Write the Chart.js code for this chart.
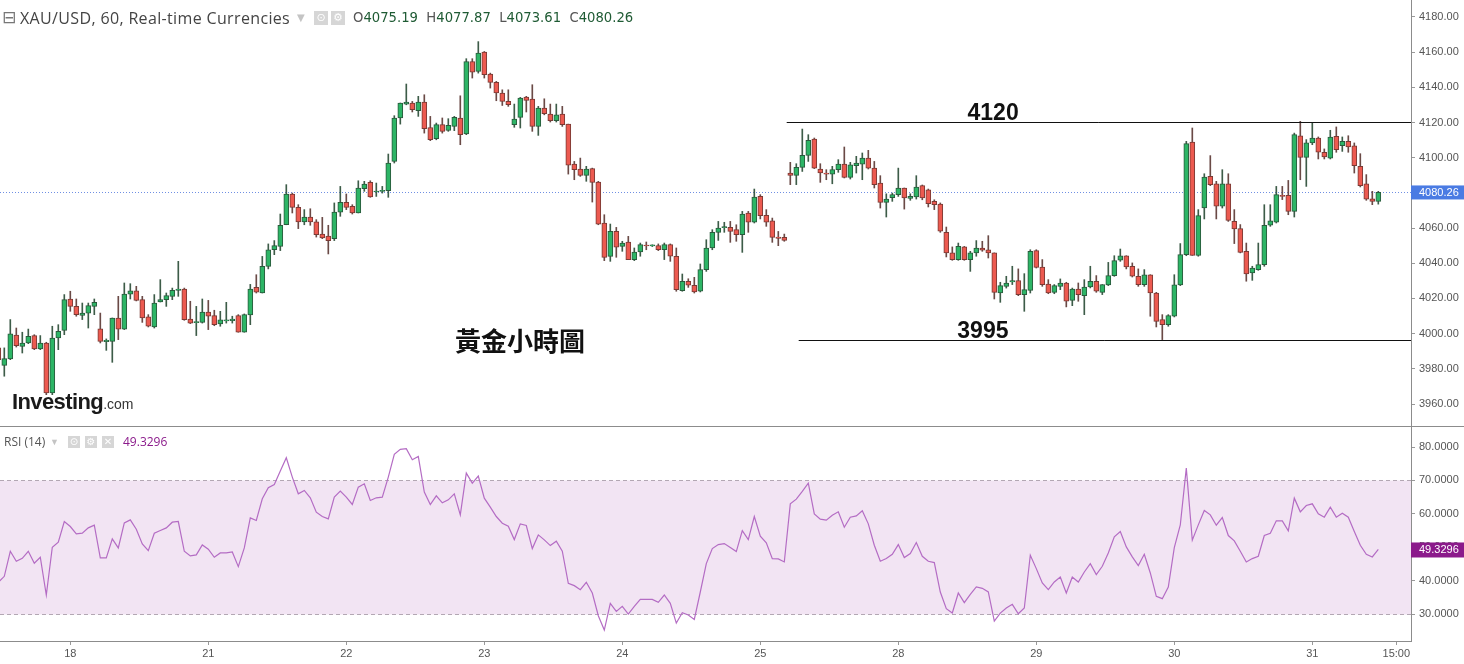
<!DOCTYPE html>
<html>
<head>
<meta charset="utf-8">
<title>XAU/USD 60</title>
<script src="https://cdn.jsdelivr.net/npm/chart.js@4.4.1/dist/chart.umd.min.js"></script>
<style>
  html, body { margin: 0; padding: 0; background: #fff; }
  #wrap { position: relative; width: 1464px; height: 664px; overflow: hidden; font-family: 'Liberation Sans', Arial, sans-serif; }
  #top { position: absolute; left: 0; top: 0; width: 1464px; height: 426px; }
  #sep { position: absolute; left: 0; top: 426px; width: 1464px; height: 1px; background: #8c8c8c; }
  #bot { position: absolute; left: 0; top: 427px; width: 1464px; height: 237px; }
  .txt { position: absolute; white-space: nowrap; }
  .hd { font-family: 'DejaVu Sans', sans-serif; font-size: 14px; line-height: 18px; color: #444; top: 9px; }
  .ttl { font-family: 'Open Sans', sans-serif; font-size: 16px; letter-spacing: 0.35px; }
  .ico { position: absolute; width: 14px; height: 14px; background: #d6d6d6; color: #fff; font-size: 11px; line-height: 14px; text-align: center; font-family: 'DejaVu Sans', sans-serif; }
  .ohlc b { font-weight: normal; color: #1f5b34; }
  .ohlc { color: #555; font-size: 13.2px; }
  .rsih { font-family: 'Open Sans', sans-serif; font-size: 12px; line-height: 14px; color: #555; top: 435px; }
</style>
</head>
<body>
<div id="wrap">
  <div id="top"><canvas id="cTop"></canvas></div>
  <div id="sep"></div>
  <div id="bot"><canvas id="cBot"></canvas></div>

  <div class="txt hd" style="left:2px;top:8px;color:#777;font-size:17px;">⊟</div>
  <div class="txt hd ttl" style="left:20px;">XAU/USD, 60, Real-time Currencies</div>
  <div class="txt hd" style="left:297px;color:#c4c4c4;font-size:10px;">▼</div>
  <div class="ico" style="left:314px;top:11px;">⊙</div>
  <div class="ico" style="left:331px;top:11px;">⚙</div>
  <div class="txt hd ohlc" style="left:353px;">O<b>4075.19</b>&nbsp;&nbsp;H<b>4077.87</b>&nbsp;&nbsp;L<b>4073.61</b>&nbsp;&nbsp;C<b>4080.26</b></div>

  <div class="txt" style="left:455px;top:325px;font-family:'Noto Sans CJK TC',sans-serif;font-weight:bold;font-size:26px;line-height:30px;color:#111;">黃金小時圖</div>

  <div class="txt" style="left:12px;top:389px;color:#1a1a1a;">
    <span style="font-weight:bold;font-size:22px;letter-spacing:-0.6px;">Investing</span><span style="font-size:14px;color:#333;">.com</span>
  </div>

  <div class="txt rsih" style="left:4px;">RSI (14)</div>
  <div class="txt rsih" style="left:50px;color:#c4c4c4;font-size:9px;">▼</div>
  <div class="ico" style="left:68px;top:436px;width:12px;height:12px;line-height:12px;font-size:10px;">⊙</div>
  <div class="ico" style="left:85px;top:436px;width:12px;height:12px;line-height:12px;font-size:10px;">⚙</div>
  <div class="ico" style="left:102px;top:436px;width:12px;height:12px;line-height:12px;font-size:10px;">✕</div>
  <div class="txt rsih" style="left:123px;color:#8b1a8b;">49.3296</div>
</div>

<script>
// 小時K線 開 / 高 / 低 / 收 (從圖上讀出的估計值)
var opens = [
  3991.9, 3982.0, 3985.6, 3999.2, 3992.8, 3994.7, 3998.9, 3991.3, 3994.7, 3966.3,
  3997.5, 4001.9, 4019.7, 4015.5, 4010.4, 4011.7, 4015.5, 4002.8, 3995.5, 3995.6,
  4008.9, 4002.6, 4022.5, 4024.4, 4019.3, 4009.5, 4003.8, 4018.0, 4019.3, 4021.2,
  4024.6, 4025.4, 4008.3, 4006.3, 4006.4, 4012.3, 4010.2, 4005.5, 4007.2, 4007.4,
  4010.2, 4000.8, 4010.6, 4026.3, 4023.1, 4038.2, 4047.7, 4049.6, 4061.9, 4079.4,
  4071.8, 4063.5, 4066.3, 4063.5, 4056.6, 4055.5, 4054.0, 4069.1, 4074.6, 4072.4,
  4068.6, 4082.4, 4086.0, 4080.5, 4080.9, 4081.3, 4097.9, 4122.6, 4130.5, 4131.1,
  4126.7, 4131.6, 4117.2, 4110.8, 4118.8, 4115.5, 4117.8, 4122.6, 4113.5, 4154.7,
  4149.1, 4160.0, 4147.6, 4142.8, 4136.8, 4132.0, 4118.8, 4122.9, 4134.5, 4133.3,
  4117.8, 4128.2, 4124.8, 4121.0, 4124.8, 4119.1, 4096.4, 4093.6, 4090.0, 4093.8,
  4086.2, 4062.9, 4043.9, 4058.2, 4049.6, 4052.1, 4042.1, 4046.4, 4050.2, 4049.9,
  4050.0, 4047.7, 4050.6, 4044.0, 4024.4, 4029.7, 4027.5, 4024.1, 4036.4, 4048.7,
  4057.6, 4060.2, 4060.4, 4059.1, 4056.3, 4068.6, 4063.3, 4078.0, 4067.2, 4064.2,
  4054.9, 4054.7, 4091.3, 4090.0, 4094.5, 4101.3, 4110.6, 4093.6, 4091.3, 4090.7,
  4093.2, 4096.4, 4088.8, 4095.5, 4096.4, 4099.8, 4094.1, 4085.6, 4074.6, 4077.3,
  4079.0, 4082.8, 4076.9, 4077.7, 4084.1, 4081.8, 4075.2, 4073.7, 4057.6, 4045.9,
  4042.1, 4049.3, 4042.1, 4045.9, 4048.7, 4047.7, 4045.9, 4023.1, 4026.9, 4029.4,
  4030.1, 4022.2, 4024.6, 4047.2, 4037.9, 4028.2, 4023.5, 4026.9, 4028.8, 4018.9,
  4025.4, 4021.6, 4026.5, 4029.7, 4023.5, 4027.7, 4033.0, 4041.7, 4044.3, 4038.3,
  4032.6, 4027.9, 4033.5, 4023.1, 4008.0, 4005.1, 4009.9, 4027.7, 4044.9, 4108.9,
  4044.5, 4071.4, 4089.4, 4085.2, 4072.4, 4085.2, 4063.8, 4059.7, 4046.8, 4034.5,
  4036.4, 4039.2, 4061.6, 4063.3, 4078.6, 4078.6, 4069.5, 4112.5, 4100.2, 4108.4,
  4111.2, 4103.1, 4099.8, 4112.2, 4106.8, 4109.3, 4106.8, 4095.1, 4085.1, 4076.7,
  4075.19
];
var highs = [
  3993.7, 3991.9, 4008.0, 4003.2, 4000.8, 4002.6, 3999.4, 3998.9, 3995.1, 4004.2,
  4005.1, 4022.2, 4024.1, 4019.7, 4017.4, 4017.4, 4019.7, 4011.7, 3997.0, 4008.9,
  4021.2, 4028.8, 4028.4, 4026.9, 4021.2, 4010.8, 4022.2, 4030.7, 4023.1, 4025.9,
  4041.1, 4025.9, 4018.4, 4015.5, 4019.7, 4018.9, 4013.3, 4012.7, 4017.8, 4009.9,
  4010.8, 4011.2, 4028.0, 4033.5, 4043.9, 4051.0, 4052.9, 4068.0, 4084.7, 4079.9,
  4073.3, 4070.5, 4071.0, 4064.8, 4066.1, 4061.6, 4074.3, 4083.7, 4079.4, 4073.3,
  4086.9, 4086.6, 4086.9, 4085.6, 4083.7, 4102.1, 4123.9, 4131.1, 4141.9, 4132.0,
  4134.9, 4135.8, 4123.5, 4119.7, 4122.6, 4122.2, 4123.5, 4135.2, 4156.3, 4156.3,
  4166.0, 4160.4, 4148.1, 4143.4, 4138.6, 4138.6, 4130.5, 4134.3, 4134.9, 4141.5,
  4129.2, 4133.5, 4130.5, 4130.5, 4129.2, 4119.1, 4097.9, 4099.8, 4095.1, 4094.1,
  4086.6, 4067.6, 4062.3, 4060.4, 4052.5, 4055.3, 4048.7, 4051.5, 4052.1, 4050.5,
  4051.0, 4051.5, 4051.0, 4048.7, 4033.9, 4031.2, 4032.0, 4039.6, 4053.4, 4059.1,
  4063.8, 4063.3, 4063.8, 4061.9, 4069.5, 4069.5, 4082.2, 4079.0, 4070.5, 4065.7,
  4058.1, 4056.6, 4097.4, 4096.6, 4116.3, 4113.1, 4111.2, 4096.6, 4093.2, 4095.1,
  4098.9, 4106.1, 4097.4, 4100.8, 4102.7, 4104.2, 4097.9, 4089.8, 4079.5, 4079.9,
  4094.1, 4082.8, 4079.5, 4089.8, 4084.5, 4082.2, 4076.1, 4074.3, 4060.6, 4049.3,
  4051.5, 4049.6, 4046.8, 4052.9, 4052.5, 4055.7, 4045.9, 4029.2, 4032.6, 4038.3,
  4036.8, 4034.1, 4047.7, 4047.7, 4042.1, 4030.7, 4027.9, 4031.1, 4029.2, 4025.9,
  4028.8, 4030.7, 4038.3, 4033.0, 4027.9, 4040.5, 4044.3, 4048.1, 4044.3, 4040.2,
  4036.8, 4036.4, 4033.5, 4023.5, 4010.8, 4010.8, 4033.5, 4051.2, 4109.3, 4116.9,
  4070.5, 4090.9, 4101.2, 4086.6, 4093.2, 4090.9, 4070.5, 4062.0, 4051.5, 4038.3,
  4051.5, 4073.3, 4073.3, 4083.7, 4083.7, 4087.1, 4114.0, 4120.7, 4110.3, 4119.7,
  4111.8, 4105.0, 4115.6, 4117.5, 4111.8, 4112.5, 4108.4, 4102.3, 4090.4, 4080.9,
  4080.9
];
var lows = [
  3984.3, 3975.8, 3985.2, 3992.4, 3989.0, 3994.3, 3990.9, 3990.9, 3965.3, 3965.3,
  3990.9, 3999.4, 4012.7, 4009.9, 4008.0, 4003.2, 4010.8, 3994.7, 3990.5, 3983.7,
  3996.6, 4002.3, 4019.7, 4018.6, 4006.4, 4003.8, 4003.2, 4018.0, 4015.5, 4019.3,
  4021.2, 4007.6, 4005.7, 3998.9, 4006.0, 4002.3, 4004.5, 4004.2, 4006.0, 4006.0,
  4000.8, 4000.8, 4005.1, 4023.1, 4023.1, 4036.8, 4044.9, 4047.2, 4061.9, 4068.6,
  4059.7, 4061.9, 4061.6, 4054.9, 4054.0, 4045.3, 4052.9, 4066.7, 4070.5, 4068.0,
  4068.6, 4080.9, 4077.5, 4078.0, 4079.9, 4077.5, 4097.0, 4119.1, 4130.1, 4126.0,
  4123.5, 4114.0, 4109.7, 4110.2, 4114.0, 4115.0, 4115.4, 4107.4, 4113.1, 4145.3,
  4148.1, 4145.3, 4139.6, 4132.4, 4129.7, 4129.2, 4117.3, 4116.9, 4126.0, 4115.0,
  4112.7, 4124.4, 4120.3, 4120.3, 4117.8, 4090.7, 4087.5, 4089.4, 4086.6, 4074.8,
  4061.9, 4041.5, 4041.1, 4043.4, 4046.8, 4042.1, 4041.5, 4044.0, 4047.7, 4049.5,
  4047.2, 4042.1, 4041.1, 4024.1, 4024.1, 4026.3, 4023.1, 4023.7, 4035.4, 4047.7,
  4053.0, 4057.6, 4051.9, 4052.5, 4046.2, 4057.6, 4062.9, 4065.2, 4061.0, 4051.9,
  4050.0, 4052.5, 4084.7, 4084.7, 4092.2, 4097.9, 4093.8, 4086.0, 4087.5, 4085.2,
  4091.7, 4088.5, 4087.9, 4091.3, 4087.5, 4093.6, 4082.8, 4071.4, 4066.3, 4075.2,
  4078.0, 4070.8, 4075.8, 4076.5, 4076.1, 4072.0, 4070.5, 4057.6, 4043.6, 4041.7,
  4041.7, 4041.7, 4035.4, 4044.0, 4046.8, 4043.0, 4019.7, 4017.8, 4025.9, 4027.9,
  4021.6, 4012.7, 4023.1, 4037.3, 4026.9, 4022.7, 4022.7, 4025.0, 4015.2, 4015.9,
  4018.4, 4010.8, 4026.0, 4023.5, 4022.2, 4027.3, 4032.6, 4041.1, 4036.8, 4032.2,
  4026.9, 4026.9, 4009.9, 4003.8, 3996.6, 4004.2, 4009.5, 4027.3, 4044.3, 4044.5,
  4044.0, 4065.2, 4084.1, 4065.2, 4071.4, 4063.8, 4051.2, 4045.9, 4029.8, 4030.3,
  4036.0, 4038.3, 4061.0, 4062.9, 4076.2, 4067.6, 4066.3, 4087.5, 4083.7, 4107.4,
  4099.3, 4099.3, 4099.3, 4103.1, 4103.6, 4103.1, 4091.3, 4083.4, 4075.8, 4073.3,
  4073.61
];
var closes = [
  3985.2, 3985.8, 3999.9, 3993.2, 3994.7, 3998.5, 3991.3, 3994.7, 3966.3, 3997.5,
  4001.3, 4019.3, 4015.5, 4010.8, 4011.7, 4015.9, 4017.8, 3995.6, 3996.2, 4008.9,
  4002.6, 4022.5, 4024.4, 4018.9, 4008.9, 4004.2, 4017.4, 4019.3, 4021.6, 4024.6,
  4025.4, 4008.0, 4006.0, 4006.5, 4012.3, 4009.9, 4005.1, 4007.8, 4007.8, 4008.3,
  4000.8, 4010.8, 4025.4, 4023.6, 4038.2, 4047.7, 4050.0, 4061.6, 4079.4, 4071.8,
  4063.5, 4066.3, 4063.5, 4056.3, 4054.4, 4052.9, 4069.1, 4074.6, 4071.8, 4068.6,
  4082.8, 4085.0, 4077.7, 4080.9, 4081.4, 4097.0, 4122.6, 4131.1, 4131.6, 4127.3,
  4131.6, 4116.5, 4110.2, 4118.8, 4115.0, 4118.4, 4122.9, 4113.1, 4154.7, 4148.7,
  4159.5, 4147.2, 4142.8, 4136.8, 4132.0, 4130.1, 4122.0, 4133.9, 4132.6, 4117.8,
  4128.2, 4125.0, 4121.0, 4124.4, 4118.8, 4095.7, 4093.2, 4090.0, 4093.6, 4086.0,
  4062.3, 4043.4, 4058.2, 4049.1, 4051.5, 4042.1, 4046.4, 4050.6, 4049.8, 4050.1,
  4047.7, 4050.6, 4044.0, 4025.0, 4029.7, 4027.5, 4023.7, 4036.4, 4048.7, 4057.6,
  4060.0, 4060.8, 4058.1, 4056.3, 4068.0, 4063.3, 4077.7, 4067.1, 4063.3, 4054.7,
  4054.2, 4053.0, 4090.0, 4094.5, 4101.3, 4109.9, 4094.1, 4091.3, 4090.7, 4093.2,
  4096.4, 4088.8, 4096.0, 4097.0, 4099.8, 4094.1, 4084.7, 4074.6, 4076.5, 4079.0,
  4082.8, 4077.1, 4078.0, 4083.3, 4077.1, 4073.9, 4073.3, 4058.2, 4045.9, 4042.1,
  4049.6, 4042.1, 4045.9, 4048.7, 4047.4, 4045.9, 4023.5, 4027.3, 4028.8, 4030.1,
  4022.2, 4025.0, 4046.8, 4037.7, 4027.9, 4023.1, 4027.3, 4028.8, 4018.4, 4025.4,
  4022.2, 4026.5, 4029.7, 4024.1, 4027.9, 4033.0, 4041.5, 4044.3, 4037.9, 4032.6,
  4027.9, 4033.4, 4023.1, 4007.0, 4005.1, 4010.2, 4027.7, 4044.9, 4108.0, 4044.5,
  4067.1, 4089.0, 4084.7, 4072.4, 4085.2, 4064.4, 4059.5, 4046.2, 4033.9, 4037.3,
  4039.2, 4061.6, 4064.2, 4079.0, 4078.0, 4069.5, 4113.1, 4100.2, 4108.4, 4111.2,
  4103.1, 4100.4, 4111.8, 4104.6, 4109.3, 4106.1, 4095.5, 4084.1, 4076.5, 4075.2,
  4080.26
];
// RSI(14)
var rsiValues = [
  39.5, 41.3, 48.8, 45.8, 46.7, 48.8, 45.2, 47.0, 35.7, 50.0,
  51.5, 57.7, 56.2, 54.0, 54.2, 55.8, 56.6, 46.8, 46.8, 52.5,
  49.8, 57.3, 58.2, 55.4, 51.0, 49.0, 54.2, 55.0, 55.8, 57.5,
  57.7, 48.8, 47.4, 47.7, 50.7, 49.4, 47.0, 48.3, 48.3, 48.6,
  44.2, 49.8, 58.8, 58.0, 64.5, 67.8, 68.8, 72.8, 76.8, 71.0,
  66.0, 67.0, 64.8, 60.5, 59.2, 58.5, 65.0, 66.8, 65.0, 62.8,
  68.0, 69.0, 64.0, 64.8, 65.0, 71.0, 77.8, 79.3, 79.5, 76.2,
  77.2, 66.5, 62.8, 65.4, 63.3, 64.2, 66.0, 59.7, 72.2, 69.2,
  71.3, 64.7, 62.0, 59.2, 57.2, 56.3, 52.3, 57.0, 56.5, 49.6,
  53.7, 52.2, 50.5, 51.8, 48.8, 39.2, 38.5, 37.3, 39.5, 36.3,
  29.5, 25.2, 33.2, 30.8, 32.3, 30.0, 32.3, 34.4, 34.4, 34.4,
  33.5, 35.7, 33.2, 27.3, 30.4, 29.7, 28.4, 36.6, 45.1, 49.6,
  50.8, 51.1, 49.9, 48.7, 55.0, 52.3, 59.2, 53.3, 51.3, 46.6,
  46.5, 45.6, 63.0, 64.4, 66.7, 69.2, 60.0, 58.4, 58.1, 59.6,
  60.6, 56.0, 59.0, 59.4, 60.9, 57.0, 50.6, 45.8, 46.6, 47.9,
  50.8, 46.9, 48.1, 51.4, 47.3, 45.8, 45.4, 36.6, 31.6, 30.3,
  36.3, 33.4, 35.9, 38.1, 37.7, 36.6, 27.9, 30.3, 31.8, 32.9,
  30.1, 31.8, 47.6, 43.6, 39.3, 37.3, 39.6, 41.1, 36.3, 41.1,
  39.6, 42.6, 45.1, 41.8, 44.3, 48.3, 53.1, 54.7, 50.1, 47.1,
  44.5, 47.9, 42.3, 35.3, 34.6, 38.1, 49.9, 56.7, 73.7, 52.1,
  56.7, 61.0, 59.7, 56.6, 58.9, 53.5, 51.9, 48.8, 45.6, 46.6,
  47.3, 53.5, 54.2, 57.9, 57.9, 54.9, 64.7, 60.6, 62.5, 63.0,
  60.0, 59.0, 62.0, 59.0, 60.2, 59.0, 54.7, 50.6, 47.9, 47.1,
  49.3296
];
// 日期刻度 (對應K線序號)
var dayTickIndex = [12, 35, 58, 81, 104, 127, 150, 173, 196, 219, 233];
var dayTickLabels = ['18', '21', '22', '23', '24', '25', '28', '29', '30', '31', '15:00'];
var priceTicks = [3960, 3980, 4000, 4020, 4040, 4060, 4080, 4100, 4120, 4140, 4160, 4180];
var rsiTicks = [30, 40, 50, 60, 70, 80];
var rsiBand = [30, 70];
// 壓力 / 支撐
var levelValues = [4120.5, 3996.5];
var levelLabels = ['4120', '3995'];
var levelStart = [131.4, 133.4];
var levelLabelAt = [165.8, 164.1];
var lastPrice = 4080.26;
var lastRsi = 49.3296;

// 版面
var X_MIN = 0.2833, X_MAX = 235.45;
var AXIS_W = 53;
var UP = '#2db566', DOWN = '#ec5a50';

Chart.defaults.font.family = "'Liberation Sans', Arial, sans-serif";

var bodyData = [], wickData = [], bodyColor = [], bodyBorder = [], wickColor = [];
for (var i = 0; i < opens.length; i++) {
    var up = closes[i] >= opens[i];
    bodyData.push({x: i, y: [opens[i], closes[i]]});
    wickData.push({x: i, y: [lows[i], highs[i]]});
    bodyColor.push(up ? UP : DOWN);
    bodyBorder.push(up ? '#2a5a3c' : '#7a3a34');
    wickColor.push(up ? '#3d5c48' : '#6a4a46');
}
var rsiData = rsiValues.map(function (v, i) { return {x: i, y: v}; });

function axisFit(s) {
    s.width = AXIS_W;
    s.paddingTop = 0;
    s.paddingBottom = 0;
}

var mainPlugin = {
    id: 'mainDeco',
    beforeDatasetsDraw: function (chart) {
        var ctx = chart.ctx, a = chart.chartArea, y = chart.scales.y.getPixelForValue(lastPrice);
        ctx.save();
        ctx.strokeStyle = '#6f8fe3';
        ctx.lineWidth = 1;
        ctx.setLineDash([1, 2]);
        ctx.beginPath();
        ctx.moveTo(a.left, Math.round(y) + 0.5);
        ctx.lineTo(a.right, Math.round(y) + 0.5);
        ctx.stroke();
        ctx.restore();
    },
    afterDatasetsDraw: function (chart) {
        var ctx = chart.ctx, a = chart.chartArea, xs = chart.scales.x, ys = chart.scales.y;
        ctx.save();
        for (var k = 0; k < levelValues.length; k++) {
            var y = Math.round(ys.getPixelForValue(levelValues[k])) + 0.5;
            var x0 = xs.getPixelForValue(levelStart[k]);
            ctx.strokeStyle = '#111';
            ctx.lineWidth = 1;
            ctx.beginPath();
            ctx.moveTo(x0, y);
            ctx.lineTo(a.right, y);
            ctx.stroke();
            ctx.fillStyle = '#111';
            ctx.font = "bold 23px 'Liberation Sans', Arial, sans-serif";
            ctx.textAlign = 'center';
            ctx.textBaseline = 'alphabetic';
            ctx.fillText(levelLabels[k], xs.getPixelForValue(levelLabelAt[k]), y - 3);
        }
        ctx.restore();
    },
    afterDraw: function (chart) {
        var ctx = chart.ctx, a = chart.chartArea, y = chart.scales.y.getPixelForValue(lastPrice);
        ctx.save();
        ctx.fillStyle = '#4a7be3';
        ctx.fillRect(a.right, y - 7, AXIS_W, 14);
        ctx.fillStyle = '#fff';
        ctx.font = "11px 'Liberation Sans', Arial, sans-serif";
        ctx.textBaseline = 'middle';
        ctx.fillText(lastPrice.toFixed(2), a.right + 8, y + 0.5);
        ctx.restore();
    }
};

var rsiPlugin = {
    id: 'rsiDeco',
    beforeDatasetsDraw: function (chart) {
        var ctx = chart.ctx, a = chart.chartArea, ys = chart.scales.y;
        var yHi = Math.round(ys.getPixelForValue(rsiBand[1])) + 0.5;
        var yLo = Math.round(ys.getPixelForValue(rsiBand[0])) + 0.5;
        ctx.save();
        ctx.fillStyle = '#f2e4f3';
        ctx.fillRect(a.left, yHi, a.right - a.left, yLo - yHi);
        ctx.strokeStyle = '#b3a7b3';
        ctx.lineWidth = 1;
        ctx.setLineDash([4, 3]);
        [yHi, yLo].forEach(function (y) {
            ctx.beginPath();
            ctx.moveTo(a.left, y);
            ctx.lineTo(a.right, y);
            ctx.stroke();
        });
        ctx.restore();
    },
    afterDraw: function (chart) {
        var ctx = chart.ctx, a = chart.chartArea, y = chart.scales.y.getPixelForValue(lastRsi);
        ctx.save();
        ctx.fillStyle = '#8b1a8b';
        ctx.fillRect(a.right, y - 7, AXIS_W, 15);
        ctx.fillStyle = '#fff';
        ctx.font = "11px 'Liberation Sans', Arial, sans-serif";
        ctx.textBaseline = 'middle';
        ctx.fillText(lastRsi.toFixed(4), a.right + 8, y + 0.5);
        ctx.restore();
    }
};

var tickFont = {size: 11};

new Chart(document.getElementById('cTop'), {
    type: 'bar',
    data: {
        datasets: [{
            data: bodyData,
            backgroundColor: bodyColor,
            borderColor: bodyBorder,
            borderWidth: 1,
            borderSkipped: false,
            barThickness: 5,
            minBarLength: 1,
            grouped: false,
            order: 1
        }, {
            data: wickData,
            backgroundColor: wickColor,
            borderWidth: 0,
            barThickness: 1,
            grouped: false,
            order: 2
        }]
    },
    options: {
        responsive: true,
        maintainAspectRatio: false,
        animation: false,
        layout: {padding: 0},
        plugins: {legend: {display: false}, tooltip: {enabled: false}},
        scales: {
            x: {type: 'linear', min: X_MIN, max: X_MAX, offset: false, display: false},
            y: {
                position: 'right',
                min: 3947.5,
                max: 4189.66,
                afterBuildTicks: function (s) { s.ticks = priceTicks.map(function (v) { return {value: v}; }); },
                afterFit: axisFit,
                grid: {drawOnChartArea: false, drawTicks: true, tickLength: 4, color: '#999'},
                border: {display: true, color: '#8c8c8c'},
                ticks: {padding: 4, color: '#555', font: tickFont, callback: function (v) { return Number(v).toFixed(2); }}
            }
        }
    },
    plugins: [mainPlugin]
});

new Chart(document.getElementById('cBot'), {
    type: 'line',
    data: {
        datasets: [{
            data: rsiData,
            borderColor: '#b46cc4',
            borderWidth: 1.2,
            pointRadius: 0,
            tension: 0,
            fill: false
        }]
    },
    options: {
        responsive: true,
        maintainAspectRatio: false,
        animation: false,
        layout: {padding: 0},
        plugins: {legend: {display: false}, tooltip: {enabled: false}},
        scales: {
            x: {
                type: 'linear',
                min: X_MIN,
                max: X_MAX,
                offset: false,
                afterBuildTicks: function (s) { s.ticks = dayTickIndex.map(function (v) { return {value: v}; }); },
                afterFit: function (s) { s.height = 23; s.paddingLeft = 0; s.paddingRight = 0; },
                grid: {drawOnChartArea: false, drawTicks: true, tickLength: 4, color: '#999'},
                border: {display: true, color: '#8c8c8c'},
                ticks: {
                    autoSkip: false, maxRotation: 0, padding: 2, color: '#555', font: tickFont,
                    callback: function (v, idx) { return dayTickLabels[idx]; }
                }
            },
            y: {
                position: 'right',
                min: 21.93,
                max: 86.0,
                afterBuildTicks: function (s) { s.ticks = rsiTicks.map(function (v) { return {value: v}; }); },
                afterFit: axisFit,
                grid: {drawOnChartArea: false, drawTicks: true, tickLength: 4, color: '#999'},
                border: {display: true, color: '#8c8c8c'},
                ticks: {padding: 4, color: '#555', font: tickFont, callback: function (v) { return Number(v).toFixed(4); }}
            }
        }
    },
    plugins: [rsiPlugin]
});
</script>
</body>
</html>
